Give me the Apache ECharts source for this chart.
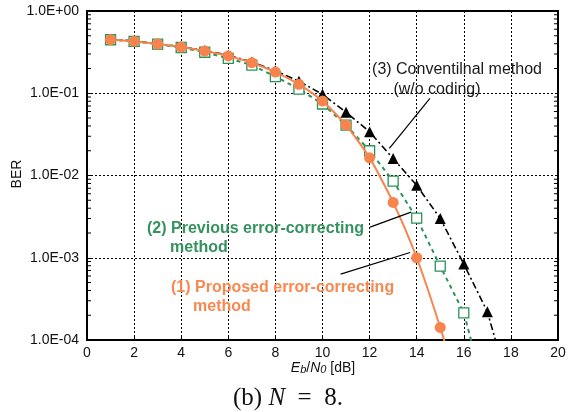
<!DOCTYPE html>
<html><head><meta charset="utf-8">
<script src="https://cdn.jsdelivr.net/npm/echarts@6/dist/echarts.min.js"></script>
<style>html,body{margin:0;padding:0;background:#fff}#c{width:579px;height:412px}</style>
</head><body><div id="c"></div>
<script>
// Eb/N0 [dB]
const ebn0 = [1,2,3,4,5,6,7,8,9,10,11,12,13,14,15,16,17,18];
// (1) Proposed error-correcting method (last point lies below the plotted range)
const proposed = [0.448,0.428,0.397,0.365,0.326,0.284,0.235,0.181,0.1285,0.0804,0.041,0.0164,0.00471,0.0010,0.000142,0.000016];
// (2) Previous error-correcting method
const previous = [0.447,0.427,0.395,0.360,0.315,0.266,0.220,0.159,0.1125,0.074,0.041,0.0200,0.00855,0.00303,0.00079,0.000214,0.000018];
// (3) Conventional method (w/o coding)
const conventional = [0.452,0.432,0.400,0.368,0.330,0.290,0.240,0.188,0.140,0.097,0.0586,0.034,0.0161,0.0076,0.0030,0.00084,0.00022,0.000022];
const xTicks = [0,2,4,6,8,10,12,14,16,18,20];
const yDecades = [1e-4,1e-3,1e-2,1e-1,1];
const minorMult = [2,3,4,5,6,7,8,9];

const minorVals = [];
yDecades.slice(0,4).forEach(d => minorMult.forEach(m => minorVals.push(d*m)));
const pair = arr => arr.map((v,i) => [ebn0[i], v]);

const FONT = '"Liberation Sans", Arial, sans-serif';
const SERIF = '"Liberation Serif", "Times New Roman", serif';
const ORANGE = '#f7834d', GREEN = '#2b9259', BLACK = '#000';

const chart = echarts.init(document.getElementById('c'), null, {renderer:'canvas'});
const gridDash = {color:'#000', width:1, type:[2,2]};
chart.setOption({
  animation:false,
  backgroundColor:'#fff',
  grid:{left:87, right:21, top:11, bottom:72, show:true, borderColor:'#000', borderWidth:2, containLabel:false},
  xAxis:{
    type:'value', min:0, max:20, interval:2,
    axisLine:{show:true, lineStyle:{color:'#000', width:2}},
    axisTick:{show:true, inside:true, length:3, lineStyle:{color:'#000'}},
    axisLabel:{color:'#111', fontFamily:FONT, fontSize:14, margin:6},
    splitLine:{show:true, lineStyle:gridDash}
  },
  yAxis:{
    type:'log', logBase:10, min:1e-4, max:1,
    axisLine:{show:true, lineStyle:{color:'#000', width:2}},
    axisTick:{show:true, inside:true, length:5, lineStyle:{color:'#000'}},
    axisLabel:{color:'#111', fontFamily:FONT, fontSize:14, margin:8,
      formatter: v => { const e = Math.round(Math.log10(v)); const s = e<0?'-':'+'; return '1.0E' + s + String(Math.abs(e)).padStart(2,'0'); }},
    splitLine:{show:true, lineStyle:gridDash}
  },
  series:[
    {
      // minor log ticks on left and right frame edges
      type:'custom', silent:true, z:1, clip:false,
      data: minorVals.map(v => [0, v]),
      renderItem: (params, api) => {
        const pL = api.coord([0, api.value(1)]);
        const pR = api.coord([20, api.value(1)]);
        const st = {stroke:'#000', lineWidth:1};
        return {type:'group', children:[
          {type:'line', shape:{x1:pL[0], y1:pL[1], x2:pL[0]+4, y2:pL[1]}, style:st},
          {type:'line', shape:{x1:pR[0], y1:pR[1], x2:pR[0]-4, y2:pR[1]}, style:st}
        ]};
      }
    },
    {
      name:'(3) Conventional method', type:'line', data:pair(conventional), clip:true,
      symbol:'triangle', symbolSize:11, showAllSymbol:true,
      itemStyle:{color:BLACK},
      lineStyle:{color:BLACK, width:1.6, type:[7,3,2,3]},
      z:2,
      markLine:{
        silent:true, symbol:['none','arrow'], symbolSize:[0,9],
        lineStyle:{color:'#000', width:1.2, type:'solid'}, label:{show:false},
        data:[[{coord:[14.56,0.0867]},{coord:[12.84,0.0214]}],
              [{coord:[12.02,2.36e-3]},{coord:[13.76,3.59e-3]}],
              [{coord:[10.77,6.31e-4]},{coord:[13.72,1.16e-3]}]]
      }
    },
    {
      name:'(2) Previous error-correcting method', type:'line', data:pair(previous), clip:true,
      symbol:'rect', symbolSize:10, showAllSymbol:true,
      itemStyle:{color:'#fff', borderColor:GREEN, borderWidth:1.3},
      lineStyle:{color:GREEN, width:2, type:[4,4]},
      z:3
    },
    {
      name:'(1) Proposed error-correcting method', type:'line', data:pair(proposed), clip:true,
      symbol:'circle', symbolSize:11, showAllSymbol:true, smooth:0.2,
      itemStyle:{color:ORANGE},
      lineStyle:{color:ORANGE, width:2},
      z:4
    }
  ],
  graphic:[
    {type:'text', x:457, y:70, style:{text:'(3) Conventilnal method', fill:'#1a1a1a', font:'16px '+FONT, align:'center', verticalAlign:'middle'}, z:50},
    {type:'text', x:437, y:90, style:{text:'(w/o coding)', fill:'#1a1a1a', font:'16px '+FONT, align:'center', verticalAlign:'middle'}, z:50},
    {type:'text', x:147, y:229, style:{text:'(2) Previous error-correcting', fill:'#35925f', font:'bold 16px '+FONT, align:'left', verticalAlign:'middle'}, z:50},
    {type:'text', x:170, y:248, style:{text:'method', fill:'#35925f', font:'bold 16px '+FONT, align:'left', verticalAlign:'middle'}, z:50},
    {type:'text', x:171, y:288, style:{text:'(1) Proposed error-correcting', fill:'#f7884f', font:'bold 16px '+FONT, align:'left', verticalAlign:'middle'}, z:50},
    {type:'text', x:193, y:307, style:{text:'method', fill:'#f7884f', font:'bold 16px '+FONT, align:'left', verticalAlign:'middle'}, z:50},
    {type:'text', x:17, y:174, rotation:Math.PI/2, style:{text:'BER', fill:'#111', font:'14px '+FONT, align:'center', verticalAlign:'middle'}, z:50},
    {type:'text', x:323, y:368, style:{
      text:'{i|E}{s|b}{n|/}{i|N}{s|0}{n| [dB]}', align:'center', verticalAlign:'middle',
      rich:{
        i:{fontFamily:FONT, fontStyle:'italic', fontSize:14, fill:'#111'},
        s:{fontFamily:FONT, fontStyle:'italic', fontSize:11, fill:'#111', padding:[4,0,0,0]},
        n:{fontFamily:FONT, fontSize:14, fill:'#111'}
      }}, z:50},
    {type:'text', x:288, y:398, style:{
      text:'{n|(b) }{i|N}{n|  =  8.}', align:'center', verticalAlign:'middle',
      rich:{
        n:{fontFamily:SERIF, fontSize:25, fill:'#111'},
        i:{fontFamily:SERIF, fontStyle:'italic', fontSize:25, fill:'#111'}
      }}, z:50}
  ]
});
</script></body></html>
